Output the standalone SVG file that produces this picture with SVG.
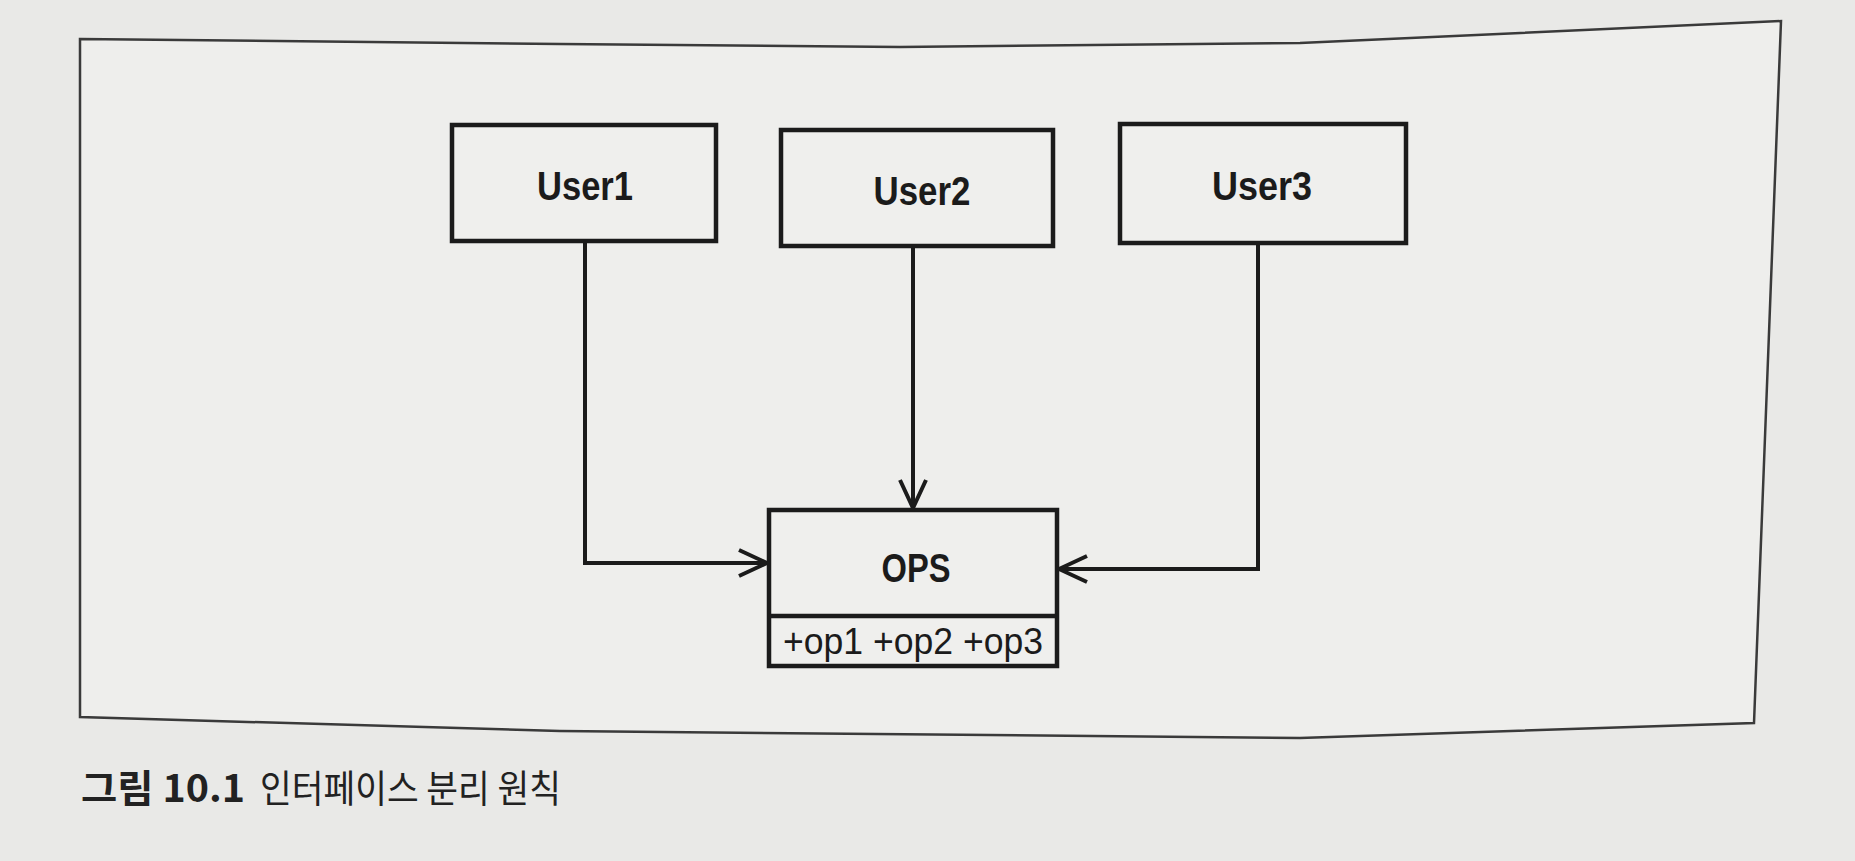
<svg xmlns="http://www.w3.org/2000/svg" width="1855" height="861" viewBox="0 0 1855 861">
<style>
.box{fill:#efefed;stroke:#1b1b1b;stroke-width:4.5}
.conn{fill:none;stroke:#1b1b1b;stroke-width:4}
.lbl{font-family:"Liberation Sans","Noto Sans CJK KR",sans-serif;font-weight:bold;font-size:40px;fill:#1b1b1b;text-anchor:middle}
.ops{font-family:"Liberation Sans",sans-serif;font-size:37px;fill:#1b1b1b;text-anchor:middle}
.capb{font-family:"Noto Sans CJK KR",sans-serif;font-weight:bold;font-size:38px;fill:#222}
.cap{font-family:"Noto Sans CJK KR",sans-serif;font-size:38px;fill:#222}
</style>
<defs>
<marker id="arr" markerUnits="userSpaceOnUse" markerWidth="34" markerHeight="32" refX="30" refY="16" orient="auto">
<path d="M2,3 L30,16 L2,29" fill="none" stroke="#1b1b1b" stroke-width="4"/>
</marker>
</defs>
<rect x="0" y="0" width="1855" height="861" fill="#e9e9e7"/>
<g id="frame">
<path d="M80,39 L560,44 L900,47 L1300,43 L1781,21 L1754,723 L1300,738 L560,731 L80,717 Z" fill="#eeeeec" stroke="#3a3a3a" stroke-width="2.5"/>
</g>
<g id="connectors">
<path class="conn" d="M585,241 L585,563 L767,563" marker-end="url(#arr)"/>
<path class="conn" d="M913,246 L913,508" marker-end="url(#arr)"/>
<path class="conn" d="M1258,243 L1258,569 L1059,569" marker-end="url(#arr)"/>
</g>
<g id="user1">
<rect class="box" x="452" y="125" width="264" height="116"/>
<text class="lbl" x="585" y="200" textLength="96" lengthAdjust="spacingAndGlyphs">User1</text>
</g>
<g id="user2">
<rect class="box" x="781" y="130" width="272" height="116"/>
<text class="lbl" x="922" y="205" textLength="97" lengthAdjust="spacingAndGlyphs">User2</text>
</g>
<g id="user3">
<rect class="box" x="1120" y="124" width="286" height="119"/>
<text class="lbl" x="1262" y="200" textLength="100" lengthAdjust="spacingAndGlyphs">User3</text>
</g>
<g id="ops">
<rect class="box" x="769" y="510" width="288" height="156"/>
<line x1="769" y1="616" x2="1057" y2="616" stroke="#1b1b1b" stroke-width="4.5"/>
<text class="lbl" x="916" y="582" textLength="69" lengthAdjust="spacingAndGlyphs">OPS</text>
<text class="ops" x="913" y="654" textLength="260" lengthAdjust="spacingAndGlyphs">+op1 +op2 +op3</text>
</g>
<g id="caption">
<text class="capb" x="81" y="802" textLength="164" lengthAdjust="spacingAndGlyphs">그림 10.1</text>
<text class="cap" x="260" y="802" textLength="301" lengthAdjust="spacingAndGlyphs">인터페이스 분리 원칙</text>
</g>
</svg>
